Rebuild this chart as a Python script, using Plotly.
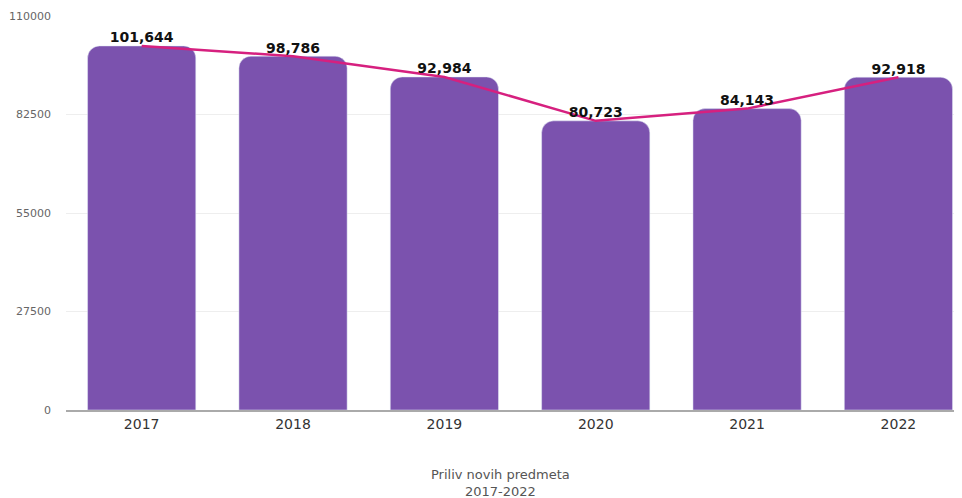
import plotly.graph_objects as go

years = ["2017", "2018", "2019", "2020", "2021", "2022"]
values = [101644, 98786, 92984, 80723, 84143, 92918]
ytick_vals = [0, 27500, 55000, 82500, 110000]
ytick_text = ["0", "27500", "55000", "82500", "110000"]
title_text = "Priliv novih predmeta<br>2017-2022"

labels = [f"{v:,}" for v in values]
FONT = "DejaVu Sans, Liberation Sans, Arial, sans-serif"

fig = go.Figure()
fig.add_trace(go.Bar(
    x=years, y=values,
    marker=dict(color="#7b52ae", cornerradius=12),
    width=0.715,
    hoverinfo="x+y",
))
fig.add_trace(go.Scatter(
    x=years, y=values,
    mode="lines+text",
    line=dict(color="#d6207f", width=2.5),
    text=labels,
    textposition="top center",
    textfont=dict(family=FONT, size=14, color="#111111", weight="bold"),
    cliponaxis=False,
))

fig.add_annotation(
    text=title_text, xref="paper", yref="paper",
    x=0.485, y=0, yshift=-55, yanchor="top", showarrow=False,
    font=dict(family=FONT, size=13, color="#555555"), align="center",
)

fig.update_layout(
    width=954, height=490,
    margin=dict(l=58, r=0, t=8, b=88, autoexpand=False),
    paper_bgcolor="white",
    plot_bgcolor="white",
    showlegend=False,
    font=dict(family=FONT, color="#444444"),
    xaxis=dict(
        type="category",
        range=[-0.5, 5.42],
        automargin=False,
        showgrid=False,
        showline=True, linecolor="#aaaaaa", linewidth=1.5,
        tickfont=dict(family=FONT, size=14, color="#333333"),
        ticks="",
    ),
    yaxis=dict(
        range=[0, 110000],
        automargin=False,
        tickvals=ytick_vals,
        ticktext=ytick_text,
        tickfont=dict(family=FONT, size=11, color="#666666"),
        showgrid=True, gridcolor="#eeeeee", gridwidth=1,
        zeroline=False,
        showline=False,
        ticks="",
        ticklabelstandoff=14,
    ),
)

fig.write_html("out.html")
